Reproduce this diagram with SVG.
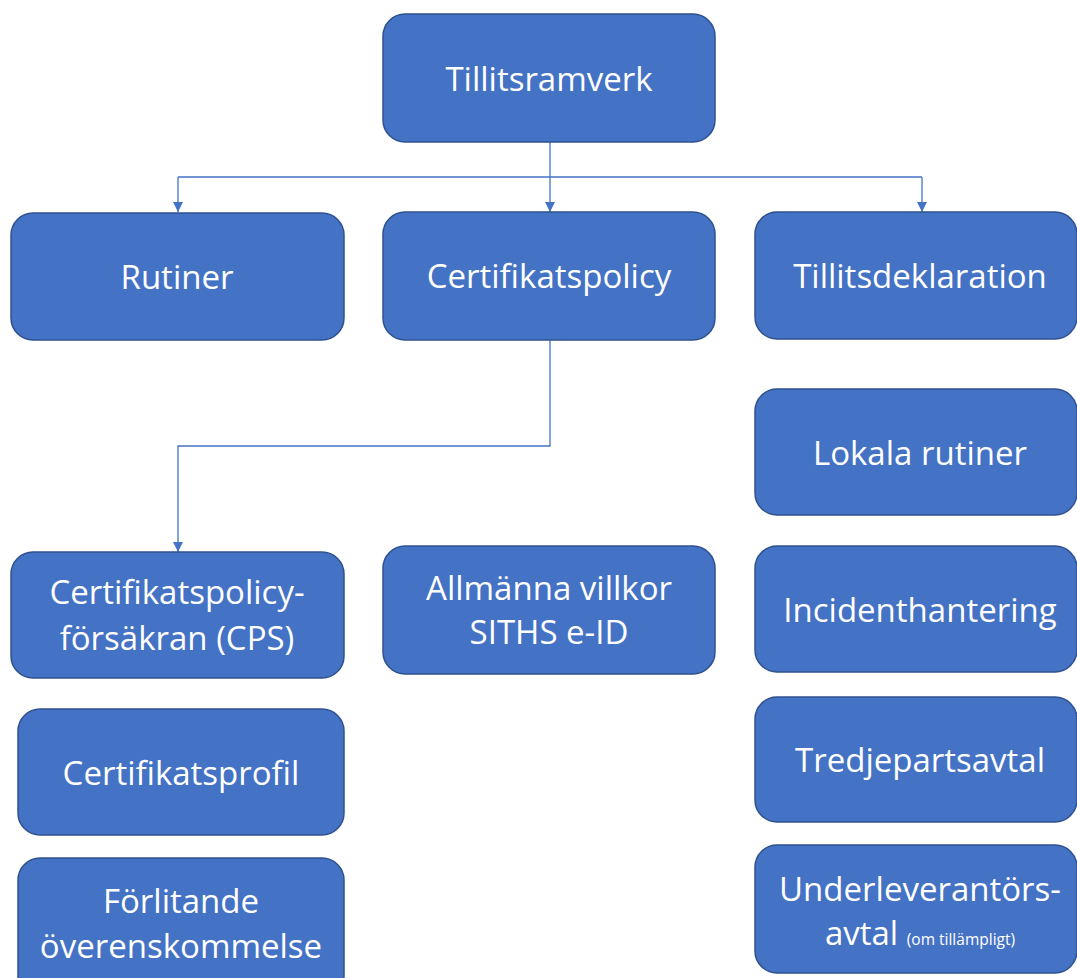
<svg xmlns="http://www.w3.org/2000/svg" width="1077" height="978" viewBox="0 0 1077 978">
<style>
.box{fill:#4472C4;stroke:#2F528F;stroke-width:1.5}
.t{fill:#fff;font-family:"Open Sans","Liberation Sans",sans-serif;font-size:33px;text-anchor:middle}
.s{font-size:15.5px}
.c{fill:none;stroke:#4472C4;stroke-width:1.3}
</style>
<defs>
<marker id="a" viewBox="0 0 10 10" refX="10" refY="5" markerWidth="10" markerHeight="10" markerUnits="userSpaceOnUse" orient="auto">
<path d="M0,0 L10,5 L0,10 z" fill="#4472C4"/>
</marker>
</defs>
<rect width="1077" height="978" fill="#fff"/>
<g id="connectors">
<path class="c" d="M550,142 V177"/>
<path class="c" d="M178,177 H922"/>
<path class="c" d="M178,177 V212" marker-end="url(#a)"/>
<path class="c" d="M550,177 V212" marker-end="url(#a)"/>
<path class="c" d="M922,177 V212" marker-end="url(#a)"/>
<path class="c" d="M550,340 V446 H178 V552" marker-end="url(#a)"/>
</g>
<g id="tillitsramverk"><rect class="box" x="383" y="14" width="332" height="128" rx="22"/><text class="t" x="549" y="91">Tillitsramverk</text></g>
<g id="rutiner"><rect class="box" x="11" y="213" width="333" height="127" rx="22"/><text class="t" x="177" y="289">Rutiner</text></g>
<g id="certifikatspolicy"><rect class="box" x="383" y="212" width="332" height="128" rx="22"/><text class="t" x="549" y="288">Certifikatspolicy</text></g>
<g id="tillitsdeklaration"><rect class="box" x="755" y="212" width="322" height="127" rx="22"/><text class="t" x="920" y="288">Tillitsdeklaration</text></g>
<g id="lokala"><rect class="box" x="755" y="389" width="322" height="126" rx="22"/><text class="t" x="920" y="465">Lokala rutiner</text></g>
<g id="incident"><rect class="box" x="755" y="546" width="322" height="126" rx="22"/><text class="t" x="920" y="622">Incidenthantering</text></g>
<g id="tredjepart"><rect class="box" x="755" y="697" width="322" height="125" rx="22"/><text class="t" x="920" y="772">Tredjepartsavtal</text></g>
<g id="underleverantor"><rect class="box" x="755" y="845" width="322" height="128" rx="22"/><text class="t"><tspan x="920" y="901">Underleverantörs-</tspan><tspan x="920" y="945">avtal <tspan class="s">(om tillämpligt)</tspan></tspan></text></g>
<g id="cps"><rect class="box" x="11" y="552" width="333" height="126" rx="22"/><text class="t"><tspan x="177" y="604">Certifikatspolicy-</tspan><tspan x="177" y="650">försäkran (CPS)</tspan></text></g>
<g id="allmanna"><rect class="box" x="383" y="546" width="332" height="128" rx="22"/><text class="t"><tspan x="549" y="600">Allmänna villkor</tspan><tspan x="549" y="644">SITHS e-ID</tspan></text></g>
<g id="profil"><rect class="box" x="18" y="709" width="326" height="126" rx="22"/><text class="t" x="181" y="785">Certifikatsprofil</text></g>
<g id="forlitande"><rect class="box" x="18" y="858" width="326" height="140" rx="22"/><text class="t"><tspan x="181" y="913">Förlitande</tspan><tspan x="181" y="958">överenskommelse</tspan></text></g>
</svg>
